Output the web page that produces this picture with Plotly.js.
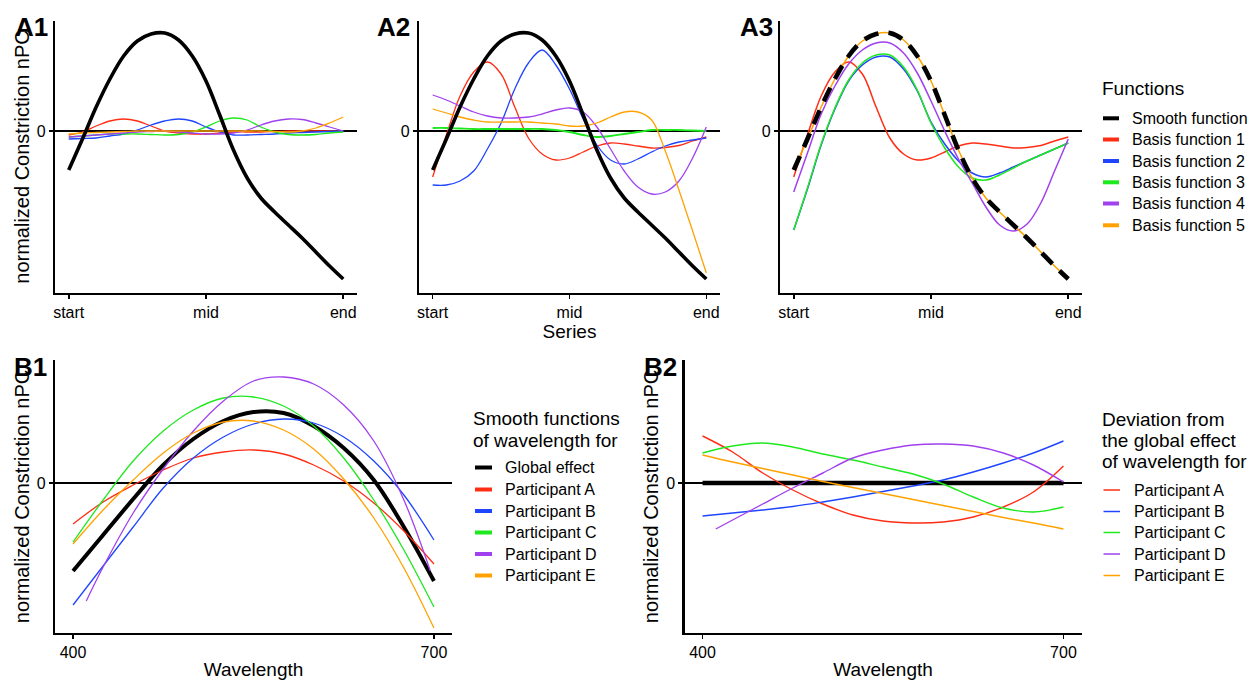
<!DOCTYPE html>
<html>
<head>
<meta charset="utf-8">
<script src="https://cdn.plot.ly/plotly-3.0.1.min.js"></script>
<style>html,body{margin:0;padding:0;background:#fff;}</style>
</head>
<body>
<div id="chart" style="width:1254px;height:680px;"></div>
<script>
// ---------------- DATA ----------------
const seriesX = [0,0.05,0.1,0.15,0.2,0.25,0.3,0.35,0.4,0.45,0.5,0.55,0.6,0.65,0.7,0.75,0.8,0.85,0.9,0.95,1];
const seriesTickVals = [0, 0.5, 1];
const seriesTickText = ['start', 'mid', 'end'];
const wavelengthTickVals = [400, 700];
const wavelengthTickText = ['400', '700'];
const zeroTickVals = [0];
const zeroTickText = ['0'];

const functionNames = ['Smooth function', 'Basis function 1', 'Basis function 2', 'Basis function 3', 'Basis function 4', 'Basis function 5'];
const participantNames = ['Participant A', 'Participant B', 'Participant C', 'Participant D', 'Participant E'];

// the smooth function (same in A1, A2, A3)
const smoothFn = [-0.39,-0.08,0.24,0.52,0.75,0.90,0.97,0.98,0.91,0.75,0.50,0.16,-0.19,-0.47,-0.67,-0.81,-0.94,-1.07,-1.21,-1.35,-1.48];

// A1: unweighted basis functions
const a1Basis1 = [-0.04,-0.01,0.05,0.10,0.12,0.10,0.05,0.00,-0.02,-0.03,-0.03,-0.02,-0.01,-0.01,-0.01,-0.005,0,0,0,0,0];
const a1Basis2 = [-0.08,-0.075,-0.07,-0.05,-0.03,0.01,0.06,0.10,0.12,0.10,0.04,-0.01,-0.04,-0.04,-0.035,-0.03,-0.02,-0.015,-0.01,-0.005,0];
const a1Basis3 = [-0.06,-0.05,-0.04,-0.03,-0.03,-0.03,-0.035,-0.04,-0.035,-0.01,0.04,0.10,0.13,0.11,0.04,-0.01,-0.035,-0.04,-0.035,-0.02,-0.01];
const a1Basis4 = [-0.06,-0.05,-0.04,-0.03,-0.02,-0.01,-0.005,0,-0.01,-0.02,-0.03,-0.03,-0.02,0.01,0.06,0.10,0.12,0.115,0.08,0.04,0.0];
const a1Basis5 = [-0.03,-0.02,-0.015,-0.01,-0.005,0,0,0,0,0,0,0,0,0,0,-0.005,-0.01,0.0,0.03,0.08,0.14];

// A2: weighted basis functions
const a2Basis1 = [-0.46,-0.04,0.35,0.59,0.69,0.57,0.24,-0.07,-0.23,-0.29,-0.27,-0.21,-0.15,-0.12,-0.13,-0.15,-0.17,-0.165,-0.145,-0.10,-0.06];
const a2Basis2 = [-0.54,-0.54,-0.50,-0.40,-0.18,0.08,0.42,0.68,0.81,0.66,0.42,0.12,-0.14,-0.29,-0.33,-0.28,-0.21,-0.15,-0.11,-0.09,-0.07];
const a2Basis3 = [0.03,0.03,0.025,0.02,0.02,0.02,0.02,0.02,0.02,0.01,-0.01,-0.04,-0.06,-0.05,-0.03,-0.01,0.01,0.01,0.01,0.005,0];
const a2Basis4 = [0.36,0.31,0.25,0.19,0.15,0.13,0.13,0.14,0.17,0.21,0.23,0.19,0.04,-0.18,-0.40,-0.56,-0.63,-0.61,-0.50,-0.27,0.04];
const a2Basis5 = [0.22,0.18,0.14,0.11,0.09,0.09,0.09,0.09,0.08,0.07,0.05,0.05,0.08,0.14,0.19,0.19,0.11,-0.20,-0.59,-1.00,-1.42];

// A3: cumulative sums of weighted basis functions
const a3Basis1 = [-0.46,-0.04,0.35,0.59,0.69,0.57,0.24,-0.07,-0.23,-0.29,-0.27,-0.21,-0.15,-0.12,-0.13,-0.15,-0.17,-0.165,-0.145,-0.10,-0.06];
const a3Basis2 = [-0.99,-0.58,-0.14,0.22,0.50,0.66,0.74,0.74,0.62,0.40,0.09,-0.13,-0.30,-0.42,-0.46,-0.42,-0.36,-0.30,-0.24,-0.18,-0.12];
const a3Basis3 = [-0.99,-0.57,-0.13,0.23,0.51,0.68,0.76,0.76,0.64,0.41,0.08,-0.17,-0.36,-0.47,-0.49,-0.44,-0.37,-0.30,-0.24,-0.18,-0.12];
const a3Basis4 = [-0.61,-0.22,0.17,0.45,0.67,0.81,0.88,0.88,0.78,0.58,0.30,0.0,-0.28,-0.52,-0.76,-0.94,-1.0,-0.93,-0.72,-0.40,-0.08];
const a3Basis5 = [-0.39,-0.08,0.24,0.52,0.75,0.90,0.97,0.98,0.91,0.75,0.50,0.16,-0.19,-0.47,-0.67,-0.81,-0.94,-1.07,-1.21,-1.35,-1.48];

// B1: smooth functions of wavelength
const wavelength = [400,425,450,475,500,525,550,575,600,625,650,675,700];
const b1Global = [-0.88,-0.52,-0.16,0.18,0.44,0.62,0.71,0.70,0.57,0.35,0.03,-0.44,-0.98];
const b1PartA = [-0.41,-0.19,-0.02,0.13,0.25,0.31,0.33,0.29,0.18,0.02,-0.20,-0.48,-0.81];
const b1PartB = [-1.22,-0.83,-0.44,-0.05,0.25,0.46,0.59,0.64,0.60,0.46,0.22,-0.12,-0.57];
const b1PartC = [-0.59,-0.17,0.22,0.52,0.73,0.85,0.86,0.77,0.57,0.25,-0.17,-0.67,-1.24];
const b1PartDWavelength = [411,425,450,475,500,525,550,575,600,625,650,675,697];
const b1PartD = [-1.18,-0.84,-0.30,0.14,0.52,0.82,1.02,1.06,0.99,0.78,0.42,-0.17,-0.88];
const b1PartE = [-0.61,-0.27,0.03,0.30,0.50,0.61,0.62,0.53,0.34,0.04,-0.35,-0.85,-1.45];

// B2: deviation from the global effect
const b2GlobalWavelength = [400, 700];
const b2Global = [0, 0];
const b2PartA = [0.47,0.31,0.10,-0.07,-0.21,-0.32,-0.38,-0.40,-0.39,-0.34,-0.24,-0.09,0.17];
const b2PartB = [-0.33,-0.30,-0.27,-0.235,-0.19,-0.14,-0.085,-0.03,0.03,0.11,0.20,0.30,0.42];
const b2PartC = [0.30,0.37,0.40,0.36,0.29,0.23,0.16,0.09,-0.01,-0.14,-0.25,-0.29,-0.24];
const b2PartDWavelength = [411,425,450,475,500,525,550,575,600,625,650,675,700];
const b2PartD = [-0.46,-0.37,-0.21,-0.05,0.10,0.25,0.33,0.38,0.39,0.37,0.30,0.18,0.01];
const b2PartE = [0.28,0.21,0.145,0.08,0.015,-0.045,-0.105,-0.165,-0.225,-0.285,-0.345,-0.40,-0.46];

// ---------------- STYLE ----------------
const FONT = 'Liberation Sans, Arial, Helvetica, sans-serif';
const W = 1254, H = 680;
const px = v => v / W;
const py = v => 1 - v / H;
const colors = ['#ff2d14', '#1f45ff', '#1ee81e', '#a040ee', '#ffa200'];
const TXT = '#000';

const traces = [];
function addLine(name, x, y, xa, ya, color, width, dash) {
  traces.push({
    type: 'scatter', mode: 'lines', name: name, x: x, y: y, xaxis: xa, yaxis: ya,
    line: {color: color, width: width, shape: 'spline', smoothing: 1, dash: dash || 'solid'},
    hoverinfo: 'skip', showlegend: false
  });
}

// A1
[a1Basis1, a1Basis2, a1Basis3, a1Basis4, a1Basis5].forEach((s, i) => addLine(functionNames[i + 1], seriesX, s, 'x', 'y', colors[i], 1.3));
addLine(functionNames[0], seriesX, smoothFn, 'x', 'y', '#000', 3.6);
// A2
[a2Basis1, a2Basis2, a2Basis3, a2Basis4, a2Basis5].forEach((s, i) => addLine(functionNames[i + 1], seriesX, s, 'x2', 'y2', colors[i], i === 2 ? 1.8 : 1.3));
addLine(functionNames[0], seriesX, smoothFn, 'x2', 'y2', '#000', 3.6);
// A3
[a3Basis1, a3Basis2, a3Basis3, a3Basis4, a3Basis5].forEach((s, i) => addLine(functionNames[i + 1], seriesX, s, 'x3', 'y3', colors[i], 1.5));
addLine(functionNames[0], seriesX, smoothFn, 'x3', 'y3', '#000', 4.6, '15px,10px');
// B1
addLine('Global effect', wavelength, b1Global, 'x4', 'y4', '#000', 4);
addLine(participantNames[0], wavelength, b1PartA, 'x4', 'y4', colors[0], 1.3);
addLine(participantNames[1], wavelength, b1PartB, 'x4', 'y4', colors[1], 1.3);
addLine(participantNames[2], wavelength, b1PartC, 'x4', 'y4', colors[2], 1.3);
addLine(participantNames[3], b1PartDWavelength, b1PartD, 'x4', 'y4', colors[3], 1.3);
addLine(participantNames[4], wavelength, b1PartE, 'x4', 'y4', colors[4], 1.3);
// B2
addLine('Global effect', b2GlobalWavelength, b2Global, 'x5', 'y5', '#000', 4.6);
addLine(participantNames[0], wavelength, b2PartA, 'x5', 'y5', colors[0], 1.4);
addLine(participantNames[1], wavelength, b2PartB, 'x5', 'y5', colors[1], 1.4);
addLine(participantNames[2], wavelength, b2PartC, 'x5', 'y5', colors[2], 1.4);
addLine(participantNames[3], b2PartDWavelength, b2PartD, 'x5', 'y5', colors[3], 1.4);
addLine(participantNames[4], wavelength, b2PartE, 'x5', 'y5', colors[4], 1.4);

const common = {
  showline: true, linecolor: '#000', linewidth: 2.2, mirror: false,
  ticks: 'outside', ticklen: 4, tickwidth: 1.6, tickcolor: '#000',
  showgrid: false, zeroline: false, fixedrange: true,
  tickfont: {family: FONT, size: 16, color: TXT}, tickmode: 'array'
};
const yTitleText = 'normalized Constriction nPC';
const titleFont = {family: FONT, size: 20, color: TXT};
const xTitleFont = {family: FONT, size: 19, color: TXT};

function xA(domain, anchor, range, vals, text, title) {
  const a = Object.assign({}, common, {domain: domain, anchor: anchor, range: range, tickvals: vals, ticktext: text});
  if (title) a.title = {text: title, font: xTitleFont, standoff: 4};
  return a;
}
function yA(domain, anchor, range, title) {
  const a = Object.assign({}, common, {
    domain: domain, anchor: anchor, range: range, tickvals: zeroTickVals, ticktext: zeroTickText,
    zeroline: true, zerolinecolor: '#000', zerolinewidth: 2.2
  });
  if (title) a.title = {text: title, font: titleFont, standoff: 2};
  return a;
}

const aTop = 21, aBot = 293, bTop = 360, bBot = 633;
const layout = {
  width: W, height: H, margin: {l: 0, r: 0, t: 0, b: 0},
  paper_bgcolor: '#fff', plot_bgcolor: '#fff', showlegend: false,
  font: {family: FONT, color: TXT},
  xaxis: xA([px(55), px(357)], 'y', [-0.05, 1.05], seriesTickVals, seriesTickText),
  yaxis: yA([py(aBot), py(aTop)], 'x', [-1.62, 1.10], yTitleText),
  xaxis2: xA([px(419), px(720)], 'y2', [-0.05, 1.05], seriesTickVals, seriesTickText, 'Series'),
  yaxis2: yA([py(aBot), py(aTop)], 'x2', [-1.62, 1.10]),
  xaxis3: xA([px(780), px(1082)], 'y3', [-0.05, 1.05], seriesTickVals, seriesTickText),
  yaxis3: yA([py(aBot), py(aTop)], 'x3', [-1.62, 1.10]),
  xaxis4: xA([px(55), px(452)], 'y4', [385, 715], wavelengthTickVals, wavelengthTickText, 'Wavelength'),
  yaxis4: yA([py(bBot), py(bTop)], 'x4', [-1.50, 1.23], yTitleText),
  xaxis5: xA([px(684.5), px(1081.5)], 'y5', [385, 715], wavelengthTickVals, wavelengthTickText, 'Wavelength'),
  yaxis5: yA([py(bBot), py(bTop)], 'x5', [-1.50, 1.23], yTitleText),
  annotations: [], shapes: []
};

function label(text, x, y, size, bold) {
  layout.annotations.push({
    text: bold ? '<b>' + text + '</b>' : text, xref: 'paper', yref: 'paper',
    x: px(x), y: py(y), xanchor: 'left', yanchor: 'middle', showarrow: false,
    font: {family: FONT, size: size, color: TXT}, borderpad: 0
  });
}
function key(x0, x1, y, color, width) {
  layout.shapes.push({type: 'line', xref: 'paper', yref: 'paper', x0: px(x0), x1: px(x1), y0: py(y), y1: py(y),
    line: {color: color, width: width}});
}

// panel tags
label('A1', 14, 27, 26, true);
label('A2', 376, 27, 26, true);
label('A3', 739, 27, 26, true);
label('B1', 13, 367, 26, true);
label('B2', 643, 367, 26, true);

// legend A3
label('Functions', 1101, 89, 19);
const a3Y = [118.3, 139.5, 161, 182.3, 203.5, 225.3];
const a3Colors = ['#000'].concat(colors);
functionNames.forEach((n, i) => { key(1103, 1119, a3Y[i], a3Colors[i], 4); label(n, 1131, a3Y[i], 16); });

// legend B1
label('Smooth functions', 472, 418, 19);
label('of wavelength for', 472, 440, 19);
const b1Y = [467.5, 489.5, 511, 532.5, 554, 575.5];
const b1Names = ['Global effect'].concat(participantNames);
b1Names.forEach((n, i) => { key(475, 492, b1Y[i], a3Colors[i], 4); label(n, 504, b1Y[i], 16); });

// legend B2
label('Deviation from', 1101, 419, 19);
label('the global effect', 1101, 440, 19);
label('of wavelength for', 1101, 461, 19);
const b2Y = [490, 511.5, 532.5, 554, 575.5];
participantNames.forEach((n, i) => { key(1103.5, 1120, b2Y[i], colors[i], 1.5); label(n, 1132.5, b2Y[i], 16); });

Plotly.newPlot('chart', traces, layout, {staticPlot: true, displayModeBar: false});
</script>
</body>
</html>
